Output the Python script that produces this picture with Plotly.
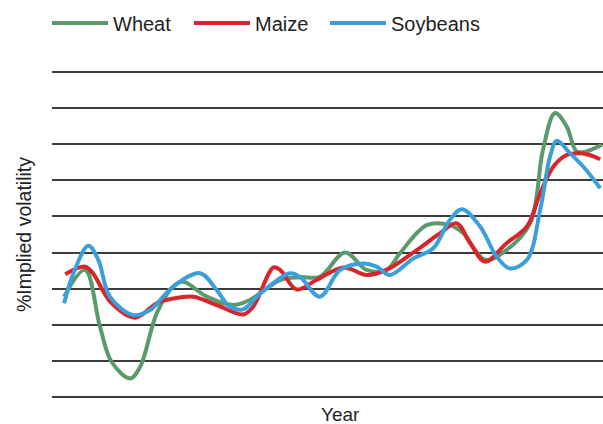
import plotly.graph_objects as go

# time axis (arbitrary units across the period shown)
wheat_t = [2.2, 6.0, 8.7, 10.8, 14.2, 16.0, 19.0, 22.0, 23.8, 28.1, 32.8, 35.9, 41.4, 45.0, 48.6,
           53.2, 57.1, 60.7, 63.2, 68.0, 72.2, 74.6, 78.6, 82.5, 86.8, 89.1, 91.3, 93.4, 95.2, 97.0, 99.8]
wheat_v = [2.78, 3.52, 1.95, 0.98, 0.52, 0.84, 2.32, 3.06, 3.19, 2.78, 2.55, 2.69, 3.24, 3.32, 3.33,
           4.0, 3.52, 3.52, 3.99, 4.76, 4.76, 4.54, 3.80, 4.07, 4.82, 6.84, 7.86, 7.49, 6.80, 6.80, 6.98]

maize_t = [2.4, 6.0, 7.4, 10.8, 15.1, 19.0, 22.0, 25.6, 29.9, 34.7, 36.5, 40.2, 41.4, 44.4, 48.0,
           52.9, 57.1, 60.7, 66.2, 70.4, 73.4, 75.9, 78.6, 82.5, 86.2, 88.6, 91.0, 93.4, 95.8, 97.6, 99.5]
maize_v = [3.40, 3.61, 3.43, 2.60, 2.20, 2.60, 2.73, 2.78, 2.55, 2.29, 2.50, 3.59, 3.52, 2.98, 3.24,
           3.59, 3.38, 3.52, 4.07, 4.53, 4.81, 4.26, 3.75, 4.26, 4.72, 5.64, 6.38, 6.70, 6.75, 6.70, 6.58]

soy_t = [2.2, 3.9, 6.6, 8.4, 10.5, 14.8, 17.8, 22.0, 26.9, 29.9, 32.3, 34.7, 37.8, 43.2, 45.0, 48.6,
         52.3, 56.5, 58.9, 61.3, 65.6, 69.2, 72.2, 74.4, 77.7, 80.7, 83.1, 86.2, 88.6, 90.4, 91.6, 94.0, 96.4, 99.5]
soy_v = [2.60, 3.43, 4.19, 3.80, 2.78, 2.27, 2.41, 3.06, 3.43, 2.96, 2.50, 2.43, 2.87, 3.43, 3.33, 2.78,
         3.52, 3.70, 3.61, 3.38, 3.84, 4.12, 4.90, 5.20, 4.72, 3.89, 3.56, 3.80, 5.18, 6.66, 7.09, 6.75, 6.38, 5.78]

grid_vals = [0, 1, 2, 3, 4, 5, 6, 7, 8, 9]

series = [
    ("Wheat", wheat_t, wheat_v, "#5b9a6b", "legend", 47),
    ("Maize", maize_t, maize_v, "#d8252b", "legend2", 189),
    ("Soybeans", soy_t, soy_v, "#3a9fdb", "legend3", 325),
]

fig = go.Figure()
font = "Liberation Sans, Arial, sans-serif"
legends = {}
for name, t, v, col, leg, lx in series:
    fig.add_trace(go.Scatter(
        x=t, y=v, name=name, mode="lines", legend=leg,
        line=dict(color=col, width=4, shape="spline", smoothing=1.0),
    ))
    legends[leg] = dict(
        orientation="h", xref="container", yref="container",
        x=lx / 603, y=0.992, xanchor="left", yanchor="top",
        font=dict(size=20, color="#222222", family=font),
        itemwidth=56, bgcolor="rgba(0,0,0,0)",
    )

fig.update_layout(
    width=603, height=424,
    margin=dict(l=52, r=0, t=70, b=25),
    paper_bgcolor="white", plot_bgcolor="white",
    font=dict(family=font, color="#222222", size=18),
    showlegend=True,
    xaxis=dict(
        range=[0, 100], showgrid=False, zeroline=False, showline=False,
        showticklabels=False, ticks="", automargin=False,
    ),
    yaxis=dict(
        range=[-0.05, 9.05], tickvals=grid_vals, showticklabels=False, ticks="",
        showgrid=True, gridcolor="#3c3c3c", gridwidth=1.5,
        zeroline=False, showline=False, automargin=False,
        title=dict(text="%Implied volatility", font=dict(size=19.5), standoff=14),
    ),
    annotations=[dict(
        text="Year", xref="paper", yref="paper", x=0.523, y=-0.048,
        xanchor="center", yanchor="middle", showarrow=False,
        font=dict(size=19, color="#222222"),
    )],
    **legends,
)

fig.write_html(
    "out.html",
    config={"displayModeBar": False},
    post_script="document.body.style.margin='0';document.body.style.padding='0';",
)
